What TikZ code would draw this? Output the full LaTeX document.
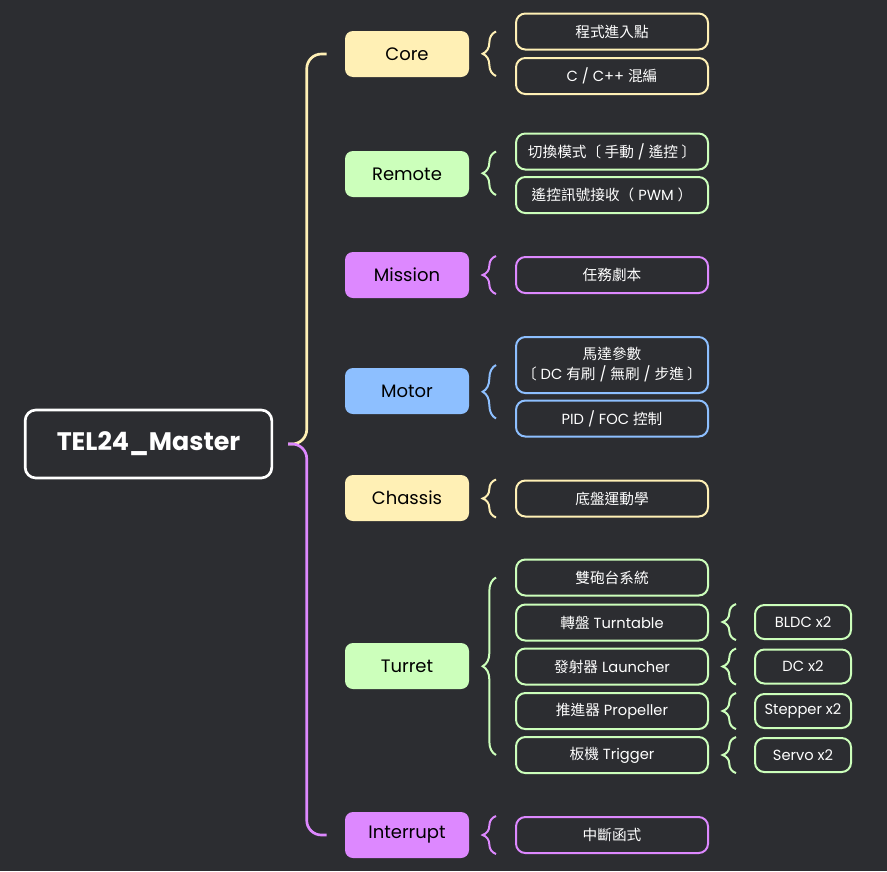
\documentclass[tikz,border=0pt]{standalone}
\usepackage{fontspec}
\setmainfont{Poppins}
\newfontfamily\cjk{Noto Sans CJK TC}
\newcommand{\zh}[1]{{\cjk #1}}
\usetikzlibrary{calc,decorations.pathreplacing}
\definecolor{bgdark}{HTML}{2C2D31}
\definecolor{coreyellow}{HTML}{FFF0B5}
\definecolor{remotegreen}{HTML}{CCFFBB}
\definecolor{missionpurple}{HTML}{DD88FF}
\definecolor{motorblue}{HTML}{8DBFFF}

\begin{document}
\begin{tikzpicture}[x=0.75pt,y=-0.75pt,
    rootbox/.style={draw=white,line width=2pt,rounded corners=8pt,fill=bgdark,minimum width=185pt,minimum height=51pt,inner sep=0pt,text=white,font=\fontsize{19}{22}\selectfont\bfseries},
    topic/.style={fill=#1,rounded corners=6pt,minimum width=93pt,minimum height=34.5pt,inner sep=0pt,text=black,font=\fontsize{13.5}{16}\selectfont},
    leaf/.style={draw=#1,line width=1.5pt,rounded corners=7pt,fill=bgdark,minimum width=144pt,minimum height=27pt,inner sep=0pt,align=center,text=white,font=\fontsize{11}{15}\selectfont},
    part/.style={leaf=#1,minimum width=72pt,minimum height=25.5pt},
    bracket/.style={draw=#1,line width=1.5pt,decorate,decoration={brace,amplitude=10pt}},
    trunk/.style={draw=#1,line width=2pt,rounded corners=11pt}]
    \fill[bgdark] (0,0) rectangle (887,871);
    \node[rootbox] (root) at (148.5,444) {TEL24\_Master};
    % main topics
    \node[topic=coreyellow] (core) at (407,54) {Core};
    \node[topic=remotegreen] (remote) at (407,174) {Remote};
    \node[topic=missionpurple] (mission) at (407,275) {Mission};
    \node[topic=motorblue] (motor) at (407,391) {Motor};
    \node[topic=coreyellow] (chassis) at (407,498) {Chassis};
    \node[topic=remotegreen] (turret) at (407,666) {Turret};
    \node[topic=missionpurple] (interrupt) at (407,835) {Interrupt};
    % trunk
    \coordinate (hub) at ($(root.east)+(15,0)$);
    \draw[trunk=coreyellow] (hub) -| ($(core.west)+(-38,0)$) -- ($(core.west)+(-18,0)$);
    \draw[trunk=missionpurple] (hub) -| ($(interrupt.west)+(-38,0)$) -- ($(interrupt.west)+(-18,0)$);
    % sub topics
    \node[leaf=coreyellow] (core1) at (612,31.5) {\zh{程式進入點}};
    \node[leaf=coreyellow] (core2) at (612,76) {C / C++ \zh{混編}};
    \node[leaf=remotegreen] (rem1) at (612,151.5) {\zh{切換模式〔 手動} / \zh{遙控 〕}};
    \node[leaf=remotegreen] (rem2) at (612,195) {\zh{遙控訊號接收（} PWM \zh{）}};
    \node[leaf=missionpurple] (mis1) at (612,275) {\zh{任務劇本}};
    \node[leaf=motorblue,minimum height=42pt] (mot1) at (612,365) {\zh{馬達參數}\\\zh{〔} DC \zh{有刷} / \zh{無刷} / \zh{步進 〕}};
    \node[leaf=motorblue] (mot2) at (612,418.5) {PID / FOC \zh{控制}};
    \node[leaf=coreyellow] (cha1) at (612,498.5) {\zh{底盤運動學}};
    \node[leaf=remotegreen] (tur1) at (612,577.5) {\zh{雙砲台系統}};
    \node[leaf=remotegreen] (tur2) at (612,622.5) {\zh{轉盤} Turntable};
    \node[leaf=remotegreen] (tur3) at (612,666.5) {\zh{發射器} Launcher};
    \node[leaf=remotegreen] (tur4) at (612,711) {\zh{推進器} Propeller};
    \node[leaf=remotegreen] (tur5) at (612,755) {\zh{板機} Trigger};
    \node[leaf=missionpurple] (int1) at (612,835) {\zh{中斷函式}};
    % turret parts
    \node[part=remotegreen] (tur2a) at (803,622) {BLDC x2};
    \node[part=remotegreen] (tur3a) at (803,666.5) {DC x2};
    \node[part=remotegreen] (tur4a) at (803,711) {Stepper x2};
    \node[part=remotegreen] (tur5a) at (803,755) {Servo x2};
    % braces
    \draw[bracket=coreyellow] ($(core2.west)+(-19,0)$) -- ($(core1.west)+(-19,0)$);
    \draw[bracket=remotegreen] ($(rem2.west)+(-19,0)$) -- ($(rem1.west)+(-19,0)$);
    \draw[bracket=missionpurple] ($(mis1.south west)+(-19,0)$) -- ($(mis1.north west)+(-19,0)$);
    \draw[bracket=motorblue] ($(mot2.west)+(-19,0)$) -- ($(mot1.west)+(-19,0)$);
    \draw[bracket=coreyellow] ($(cha1.south west)+(-19,0)$) -- ($(cha1.north west)+(-19,0)$);
    \draw[bracket=remotegreen] ($(tur5.west)+(-19,0)$) -- ($(tur1.west)+(-19,0)$);
    \draw[bracket=missionpurple] ($(int1.south west)+(-19,0)$) -- ($(int1.north west)+(-19,0)$);
    \draw[bracket=remotegreen] ($(tur2a.south west)+(-18,0)$) -- ($(tur2a.north west)+(-18,0)$);
    \draw[bracket=remotegreen] ($(tur3a.south west)+(-18,0)$) -- ($(tur3a.north west)+(-18,0)$);
    \draw[bracket=remotegreen] ($(tur4a.south west)+(-18,0)$) -- ($(tur4a.north west)+(-18,0)$);
    \draw[bracket=remotegreen] ($(tur5a.south west)+(-18,0)$) -- ($(tur5a.north west)+(-18,0)$);
\end{tikzpicture}
\end{document}
